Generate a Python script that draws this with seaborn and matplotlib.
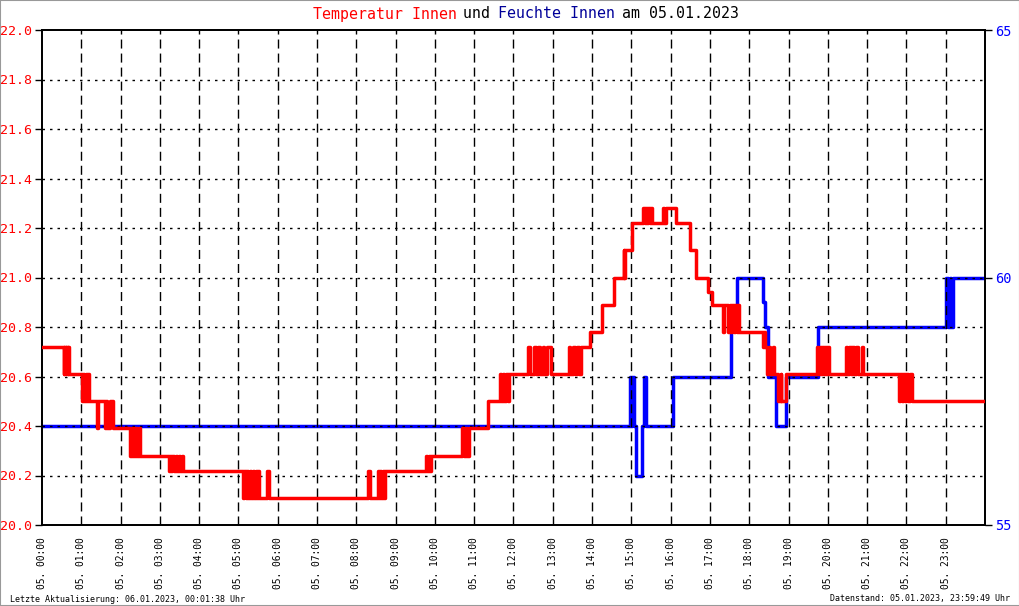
import matplotlib
matplotlib.use("Agg")
import matplotlib.pyplot as plt
import seaborn as sns
import pandas as pd
from matplotlib.patches import Rectangle

# ---------------- data ----------------
hours = list(range(24))
hour_labels = ["05. %02d:00" % h for h in hours]
temp_ticks = [20.0, 20.2, 20.4, 20.6, 20.8, 21.0, 21.2, 21.4, 21.6, 21.8, 22.0]
hum_ticks = [55, 60, 65]

# Temperatur Innen: step change points (hour, value)
temp_t = [0.00,
          0.55, 0.57, 0.60, 0.62, 0.65, 0.67, 0.69,
          1.03, 1.05, 1.08, 1.11, 1.14, 1.17, 1.20, 1.22,
          1.40, 1.43,
          1.61, 1.63, 1.66, 1.74, 1.80,
          2.25, 2.28, 2.31, 2.34, 2.37, 2.40, 2.43, 2.46, 2.50,
          3.22, 3.25, 3.29, 3.32, 3.36, 3.40, 3.44, 3.48, 3.52, 3.56, 3.60,
          5.12, 5.15, 5.18, 5.22, 5.25, 5.29, 5.32, 5.36, 5.40, 5.44, 5.47, 5.50, 5.53,
          5.73, 5.78,
          8.30, 8.34,
          8.55, 8.58, 8.61, 8.64, 8.67, 8.70, 8.74,
          9.77, 9.80, 9.84, 9.87, 9.90,
          10.70, 10.74, 10.78, 10.82, 10.86,
          11.35,
          11.65, 11.69, 11.73, 11.77, 11.81, 11.85, 11.89,
          12.38, 12.42, 12.52, 12.56, 12.63, 12.67, 12.74, 12.78, 12.85, 12.95,
          13.40, 13.44, 13.52, 13.56, 13.62, 13.66, 13.72, 13.77,
          13.95, 14.25, 14.55, 14.80, 14.82, 14.85,
          15.02,
          15.30, 15.34, 15.36, 15.40, 15.43, 15.47, 15.50, 15.53,
          15.80, 15.83, 15.87,
          16.13, 16.48, 16.65, 16.96, 17.04,
          17.33, 17.36, 17.46, 17.50, 17.53, 17.57, 17.60, 17.64, 17.68, 17.72, 17.75,
          18.34, 18.38, 18.41, 18.45, 18.50, 18.53, 18.60, 18.63,
          18.72, 18.80, 18.82, 18.94,
          19.72, 19.75, 19.80, 19.83, 19.86, 19.89, 19.92, 19.96, 19.99, 20.03,
          20.45, 20.50, 20.53, 20.58, 20.62, 20.67, 20.72, 20.76, 20.86, 20.90,
          21.80, 21.84, 21.88, 21.92, 21.96, 22.00, 22.04, 22.08, 22.13,
          24.00]
temp_v = [20.72,
          20.61, 20.72, 20.61, 20.72, 20.61, 20.72, 20.61,
          20.50, 20.61, 20.50, 20.61, 20.50, 20.61, 20.50, 20.50,
          20.39, 20.50,
          20.39, 20.50, 20.39, 20.50, 20.39,
          20.28, 20.39, 20.28, 20.39, 20.28, 20.39, 20.28, 20.39, 20.28,
          20.22, 20.28, 20.22, 20.28, 20.22, 20.28, 20.22, 20.28, 20.22, 20.28, 20.22,
          20.11, 20.22, 20.11, 20.22, 20.11, 20.22, 20.11, 20.22, 20.11, 20.22, 20.11, 20.22, 20.11,
          20.22, 20.11,
          20.22, 20.11,
          20.22, 20.11, 20.22, 20.11, 20.22, 20.11, 20.22,
          20.28, 20.22, 20.28, 20.22, 20.28,
          20.39, 20.28, 20.39, 20.28, 20.39,
          20.50,
          20.61, 20.50, 20.61, 20.50, 20.61, 20.50, 20.61,
          20.72, 20.61, 20.72, 20.61, 20.72, 20.61, 20.72, 20.61, 20.72, 20.61,
          20.72, 20.61, 20.72, 20.61, 20.72, 20.61, 20.72, 20.72,
          20.78, 20.89, 21.00, 21.11, 21.00, 21.11,
          21.22,
          21.28, 21.22, 21.28, 21.22, 21.28, 21.22, 21.28, 21.22,
          21.28, 21.22, 21.28,
          21.22, 21.11, 21.00, 20.94, 20.89,
          20.78, 20.89, 20.78, 20.89, 20.78, 20.89, 20.78, 20.89, 20.78, 20.89, 20.78,
          20.72, 20.78, 20.72, 20.61, 20.72, 20.61, 20.72, 20.61,
          20.50, 20.61, 20.50, 20.61,
          20.72, 20.61, 20.72, 20.61, 20.72, 20.61, 20.72, 20.61, 20.72, 20.61,
          20.72, 20.61, 20.72, 20.61, 20.72, 20.61, 20.72, 20.61, 20.72, 20.61,
          20.50, 20.61, 20.50, 20.61, 20.50, 20.61, 20.50, 20.61, 20.50,
          20.50]

# Feuchte Innen: step change points (hour, value)
hum_t = [0.00, 14.97, 14.99, 15.02, 15.07, 15.13, 15.26, 15.33, 15.37, 16.07,
         17.54, 17.68, 18.34, 18.40, 18.48, 18.68, 18.94, 19.76,
         23.01, 23.05, 23.10, 23.14, 23.19, 24.00]
hum_v = [57, 58, 57, 58, 57, 56, 57, 58, 57, 58,
         59, 60, 59.5, 59, 58, 57, 58, 59,
         60, 59, 60, 59, 60, 60]

temp_df = pd.DataFrame({"t": temp_t, "v": temp_v})
hum_df = pd.DataFrame({"t": hum_t, "v": hum_v})

# ---------------- style ----------------
sns.set_style("white")
plt.rcParams["font.family"] = ["DejaVu Sans Mono", "DejaVu Sans"]

RED = "#ff0000"
BLUE = "#0000ff"
NAVY = "#000099"

fig = plt.figure(figsize=(10.2, 6.06), dpi=100)
fig.patch.set_facecolor("white")
fig.patches.append(Rectangle((0, 0), 1, 1, transform=fig.transFigure, fill=False,
                             edgecolor="#999999", linewidth=1.5, zorder=-1))

ax = fig.add_axes([42 / 1020, 81 / 606, 943 / 1020, 495 / 606])
ax2 = ax.twinx()
ax.set_zorder(ax2.get_zorder() + 1)
ax.patch.set_visible(False)

sns.lineplot(data=hum_df, x="t", y="v", ax=ax2, color=BLUE, linewidth=2.5,
             drawstyle="steps-post", estimator=None, sort=False)
sns.lineplot(data=temp_df, x="t", y="v", ax=ax, color=RED, linewidth=2.5,
             drawstyle="steps-post", estimator=None, sort=False, zorder=3)

ax.set_xlim(0, 24)
ax.set_ylim(20.0, 22.0)
ax2.set_ylim(55, 65)

ax.set_xticks(hours)
ax.set_xticklabels(hour_labels, rotation=90, fontsize=6.9, color="black")
ax.set_yticks(temp_ticks)
ax.set_yticklabels(["%.1f" % v for v in temp_ticks], fontsize=9.5, color=RED)
ax2.set_yticks(hum_ticks)
ax2.set_yticklabels([str(v) for v in hum_ticks], fontsize=9.8, color=BLUE)

ax.tick_params(axis="x", direction="out", length=5, width=1, pad=4, colors="black",
               labelcolor="black")
ax.tick_params(axis="y", direction="out", length=5, width=1, pad=2, colors="black",
               labelcolor=RED)
ax2.tick_params(axis="y", direction="out", length=5, width=1, pad=2, colors="black",
                labelcolor=BLUE)

ax.set_xlabel("")
ax.set_ylabel("")
ax2.set_ylabel("")

for a in (ax, ax2):
    for s in a.spines.values():
        s.set_visible(True)
        s.set_color("black")
        s.set_linewidth(1.3)

# grid: horizontal dotted, vertical dashed
for y in temp_ticks[1:-1]:
    ax.axhline(y, color="black", linewidth=1.0, linestyle=(0, (1.8, 3.6)), zorder=2)
for h in hours[1:]:
    ax.axvline(h, color="black", linewidth=1.0, linestyle=(0, (6.5, 3.6)), zorder=2)

# title with coloured words
parts = [("Temperatur Innen", RED), (" und ", "black"), ("Feuchte Innen", NAVY),
         (" am 05.01.2023", "black")]
full = "".join(p[0] for p in parts)
char_w = 424 / len(full) / 1020
x0 = 313 / 1020
pos = 0
for txt, col in parts:
    fig.text(x0 + pos * char_w, 1 - 14 / 606, txt, color=col, fontsize=10.7,
             ha="left", va="center")
    pos += len(txt)

fig.text(10 / 1020, 1 - 599 / 606, "Letzte Aktualisierung: 06.01.2023, 00:01:38 Uhr",
         fontsize=6.0, ha="left", va="center", color="black")
fig.text(1010 / 1020, 1 - 599 / 606, "Datenstand: 05.01.2023, 23:59:49 Uhr",
         fontsize=6.0, ha="right", va="center", color="black")

fig.savefig("out.png", dpi=100, facecolor="white")
